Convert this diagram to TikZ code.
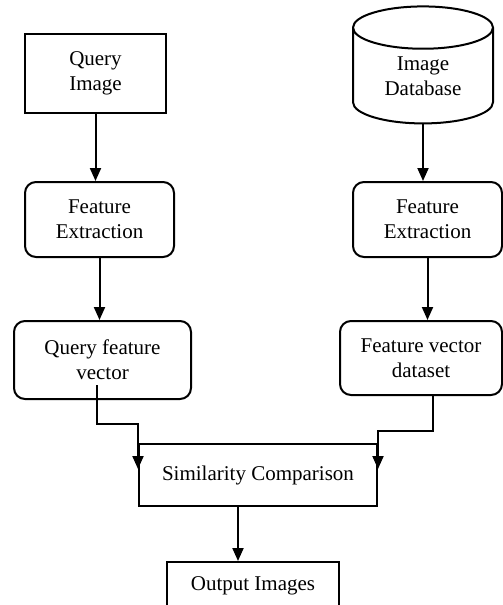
\documentclass[tikz,border=0pt]{standalone}
\usepackage{fontspec}
\setmainfont{Liberation Serif}
\usetikzlibrary{positioning, arrows.meta, shapes.geometric}
\tikzset{
>={Triangle[length=13pt,width=11pt]}, % filled heads on the connectors
every node/.style={font=\fontsize{21}{25}\selectfont, align=center, inner sep=0pt},
iobox/.style={draw, rectangle, line width=2pt}, % plain boxes for input and output
procbox/.style={draw, rectangle, rounded corners=11pt, line width=2pt}, % processing steps
dbstore/.style={draw, cylinder, shape border rotate=90, aspect=0.55, line width=2pt},
}

\begin{document}
\begin{tikzpicture}[line width=2pt]
      \useasboundingbox (0,0) rectangle (503pt,-605pt);
      \node[iobox, minimum width=141pt, minimum height=79pt] (qimg) at (95.5pt,-73.5pt) {Query\\Image};
      \node[procbox, minimum width=149pt, minimum height=75pt, below=67pt of qimg, xshift=4pt] (fe1) {Feature\\Extraction};
      \node[procbox, minimum width=177pt, minimum height=78pt, below=62pt of fe1, xshift=3pt] (qfv) {Query feature\\vector};
      \node[dbstore, minimum width=140pt, minimum height=117pt] (db) at (423pt,-76pt) {Image\\Database};
      \node[procbox, minimum width=149pt, minimum height=75pt, xshift=4.5pt] (fe2) at (db.south |- fe1) {Feature\\Extraction};
      \node[procbox, minimum width=162pt, minimum height=74pt, below=62pt of fe2, xshift=-6.5pt] (fvd) {Feature vector\\dataset};
      \node[iobox, minimum width=238pt, minimum height=62pt] (sim) at (258pt,-475pt) {Similarity Comparison};
      \node[iobox, minimum width=172pt, minimum height=48pt, below=54pt of sim, xshift=-5pt] (out) {Output Images};

      \draw[->] (qimg.south) -- (qimg.south |- fe1.north);
      \draw[->] (db.south) -- (db.south |- fe2.north);
      \draw[->] (fe1.south) -- (fe1.south |- qfv.north);
      \draw[->] (fe2.south) -- (fe2.south |- fvd.north);
      \draw[->] ([xshift=-5.5pt,yshift=15pt]qfv.south) |- ([yshift=19pt]sim.north west) -- ([yshift=-26pt]sim.north west);
      \draw[->] ([xshift=12pt]fvd.south) |- ([yshift=12pt]sim.north east) -- ([yshift=-26pt]sim.north east);
      \draw[->] ([xshift=-20pt]sim.south) -- ([xshift=-20pt]sim.south |- out.north);
\end{tikzpicture}
\end{document}
